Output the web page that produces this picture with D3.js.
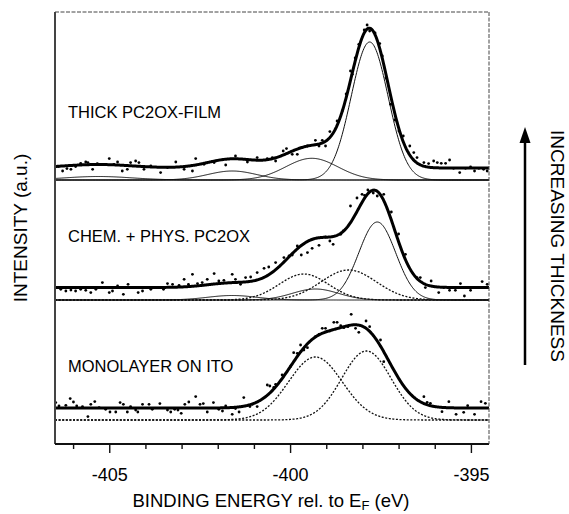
<!DOCTYPE html>
<meta charset="utf-8">
<script src="https://d3js.org/d3.v7.min.js"></script>
<style>
  body { margin: 0; background: #fff; }
  svg { font-family: "Liberation Sans", Arial, Helvetica, sans-serif; }
</style>
<body>
<div id="my_dataviz"></div>

<script>
  // ---- data (binding energy in eV, intensity in a.u.) ----
  var energyDomain = [-406.5, -394.5];
  var majorTicks = [-405, -400, -395];
  var minorTicks = [-406, -404, -403, -402, -401, -399, -398, -397, -396];

  var panelLabels = ["THICK PC2OX-FILM", "CHEM. + PHYS. PC2OX", "MONOLAYER ON ITO"];
  var panelOffsets = [264, 144, 24];      // vertical stacking of the three spectra
  var panelBackground = [12, 12.5, 12];   // constant background under each fit

  // fitted components: [centre (eV), height, fwhm (eV)]
  var thickPeaks = [[-405.3, 3.5, 2.2], [-401.6, 9, 1.6], [-399.4, 21.7, 1.7], [-397.8, 138, 1.2]];
  var chemPeaks = [[-401.6, 4.5, 1.6], [-399.3, 11, 1.5], [-399.62, 26, 1.6], [-398.38, 30, 1.8], [-397.59, 78, 1.2]];
  var monoPeaks = [[-399.3, 63, 1.75], [-397.89, 69, 1.6]];

  // measured points: [energy, intensity above panel baseline]
  var thickPoints = [[-406.41,13.4],[-406.29,9.0],[-406.17,11.4],[-406.06,10.7],[-405.93,13.4],[-405.79,16.7],[-405.65,18],[-405.59,17.4],[-405.46,10.7],[-405.33,16.4],[-405.19,15.7],[-405.0,21.4],[-404.87,15.7],[-404.77,18],[-404.64,9],[-404.5,10.7],[-404.41,17.4],[-404.27,19],[-404.18,17.4],[-404.04,10.7],[-403.85,14],[-403.58,7.4],[-403.39,12.4],[-403.16,18],[-402.93,10.7],[-402.7,9],[-402.61,21.4],[-402.38,15.7],[-402.1,17.4],[-401.78,15],[-401.51,24],[-401.18,18],[-400.91,22.4],[-400.63,21.4],[-400.49,22.4],[-400.4,19],[-400.19,29],[-400.1,31.4],[-399.94,25.7],[-399.8,25.7],[-399.66,32.4],[-399.52,34],[-399.3,39.7],[-399.2,34],[-399.11,39.7],[-399.02,34],[-398.9,48.4],[-398.7,59],[-398.56,69],[-398.45,86],[-398.33,109],[-398.28,105.7],[-398.2,122],[-398.1,135.7],[-397.95,150],[-397.87,155],[-397.8,149],[-397.65,147],[-397.52,136.4],[-397.45,124],[-397.35,102],[-397.22,75.7],[-397.1,60],[-396.99,49],[-396.87,44],[-396.69,34],[-396.58,27.4],[-396.49,22.4],[-396.3,17.4],[-396.17,16.4],[-396.03,19],[-395.93,17.4],[-395.82,16.7],[-395.7,16.7],[-395.59,20],[-395.48,11.7],[-395.31,7.4],[-395.15,11.7],[-395.01,13],[-394.9,9],[-394.78,11.7],[-394.65,10.7],[-394.55,9]];

  var chemPoints = [[-406.48,12.4],[-406.34,10.7],[-406.2,9],[-406.06,10],[-405.93,9],[-405.79,10.7],[-405.65,9.7],[-405.51,7.4],[-405.37,10.7],[-405.19,17.4],[-405.0,7.4],[-404.91,9],[-404.77,14],[-404.61,5.7],[-404.48,15.7],[-404.36,12.4],[-404.2,7.4],[-404.08,9],[-403.85,10.7],[-403.67,12.4],[-403.5,10.7],[-403.39,16.4],[-403.25,15.7],[-403.07,14.7],[-402.93,20.7],[-402.81,15.7],[-402.7,25.7],[-402.56,16.4],[-402.43,17.4],[-402.29,20.7],[-402.1,26.4],[-401.97,19],[-401.83,19.7],[-401.6,25.7],[-401.51,20.7],[-401.37,15.7],[-401.23,22.4],[-401.09,23],[-400.91,27.4],[-400.72,31.7],[-400.59,33],[-400.4,37.4],[-400.17,42.4],[-400.03,44],[-399.94,45],[-399.8,54],[-399.69,45],[-399.52,47.4],[-399.39,51.7],[-399.2,54.7],[-399.02,63],[-398.9,59],[-398.81,55.7],[-398.6,65.7],[-398.53,69],[-398.33,94],[-398.15,102],[-398.01,105.7],[-397.94,104.7],[-397.85,110],[-397.7,107],[-397.59,104],[-397.41,105.7],[-397.2,88],[-397.0,66],[-396.81,45.7],[-396.49,22.4],[-396.4,22.4],[-396.26,12.4],[-396.1,19],[-395.89,7.4],[-395.75,12.4],[-395.59,9.7],[-395.43,9.7],[-395.29,16.4],[-395.18,4],[-395.01,9.7],[-394.88,12.4],[-394.69,18.4],[-394.55,15.7]];

  var monoPoints = [[-406.48,17.4],[-406.39,14],[-406.2,14.7],[-406.08,21.4],[-405.99,18],[-405.9,14],[-405.74,13.4],[-405.59,3.4],[-405.51,15.7],[-405.4,18.4],[-405.28,12.4],[-405.1,10.7],[-404.98,8],[-404.82,8],[-404.7,17.4],[-404.61,15.7],[-404.5,8],[-404.41,13.4],[-404.27,10],[-404.21,8],[-404.08,15.7],[-403.9,15.7],[-403.81,10.7],[-403.6,16.4],[-403.39,10],[-403.3,8],[-403.19,10.7],[-403.1,10],[-403.01,6.7],[-402.91,15.7],[-402.8,18],[-402.61,23.4],[-402.49,15.7],[-402.4,16.4],[-402.29,8],[-402.12,17.4],[-401.97,10.7],[-401.87,9],[-401.78,14],[-401.6,5.7],[-401.51,11.4],[-401.41,8],[-401.28,22.4],[-401.11,13.4],[-401.04,15.7],[-400.91,13.4],[-400.63,35],[-400.56,34],[-400.45,32.7],[-400.4,35.7],[-400.22,45],[-399.99,53.3],[-399.9,67.3],[-399.8,66.7],[-399.71,75],[-399.62,70],[-399.52,72.3],[-399.3,83.3],[-399.2,85.7],[-399.11,91.7],[-399.02,91.7],[-398.9,89],[-398.79,97.7],[-398.7,97.7],[-398.6,94.3],[-398.51,92.3],[-398.4,93.3],[-398.31,105.7],[-398.19,91.7],[-398.1,87.7],[-397.9,99],[-397.8,93.3],[-397.5,80],[-397.41,58.3],[-396.3,23.3],[-396.21,17.7],[-396.12,16.7],[-395.8,8.3],[-395.61,18.3],[-395.41,5.7],[-395.2,7.7],[-395.09,14.3],[-394.9,5.7],[-394.72,18.3],[-394.6,16.7]];

  var panels = [
    {peaks: thickPeaks, points: thickPoints, dotted: [false, false, false, false]},
    {peaks: chemPeaks, points: chemPoints, dotted: [false, false, true, true, false]},
    {peaks: monoPeaks, points: monoPoints, dotted: [true, true]}
  ];

  // ---- layout ----
  var W = 569, H = 514;
  var margin = {top: 12, right: 80, bottom: 70, left: 55};
  var width = W - margin.left - margin.right,
      height = H - margin.top - margin.bottom;

  var svg = d3.select("#my_dataviz")
    .append("svg")
      .attr("width", W)
      .attr("height", H);

  var g = svg.append("g")
      .attr("transform", "translate(" + margin.left + "," + margin.top + ")");

  var x = d3.scaleLinear().domain(energyDomain).range([0, width]);
  var y = d3.scaleLinear().domain([0, 432]).range([height, 0]);

  function gauss(e, p) {
    var s = p[2] / 2.3548;
    return p[1] * Math.exp(-0.5 * Math.pow((e - p[0]) / s, 2));
  }

  var grid = d3.range(energyDomain[0], energyDomain[1] + 0.0001, 0.02);

  var line = d3.line()
    .x(function(d) { return x(d[0]); })
    .y(function(d) { return y(d[1]); });

  panels.forEach(function(pan, i) {
    var off = panelOffsets[i], bg = panelBackground[i];

    // components
    pan.peaks.forEach(function(p, j) {
      g.append("path")
        .datum(grid.map(function(e) { return [e, off + gauss(e, p)]; }))
        .attr("d", line)
        .attr("fill", "none")
        .attr("stroke", "#111")
        .attr("stroke-width", pan.dotted[j] ? 1.3 : 1)
        .attr("stroke-dasharray", pan.dotted[j] ? "2,1.6" : null);
    });

    // sum of fit
    g.append("path")
      .datum(grid.map(function(e) {
        return [e, off + bg + d3.sum(pan.peaks, function(p) { return gauss(e, p); })];
      }))
      .attr("d", line)
      .attr("fill", "none")
      .attr("stroke", "#000")
      .attr("stroke-width", 3)
      .attr("stroke-linejoin", "round");

    // measured points
    g.selectAll(".pt" + i)
      .data(pan.points)
      .enter()
      .append("circle")
        .attr("cx", function(d) { return x(d[0]); })
        .attr("cy", function(d) { return y(off + d[1]); })
        .attr("r", 1.4)
        .attr("fill", "#000");

    // panel label
    g.append("text")
      .attr("x", 13)
      .attr("y", y(off) - [62, 58, 48][i])
      .style("font-size", "16.5px")
      .text(panelLabels[i]);
  });

  // frame: solid left/bottom, faint dashed top/right
  g.append("line").attr("x1", 0).attr("x2", 0).attr("y1", 0).attr("y2", height)
    .attr("stroke", "#444").attr("stroke-width", 2);
  g.append("line").attr("x1", 0).attr("x2", width).attr("y1", height).attr("y2", height)
    .attr("stroke", "#111").attr("stroke-width", 1.8);
  g.append("line").attr("x1", 0).attr("x2", width).attr("y1", 0).attr("y2", 0)
    .attr("stroke", "#444").attr("stroke-width", 1).attr("stroke-dasharray", "4,1.5");
  g.append("line").attr("x1", width).attr("x2", width).attr("y1", 0).attr("y2", height)
    .attr("stroke", "#444").attr("stroke-width", 1).attr("stroke-dasharray", "4,1.5");

  // x axis ticks
  var axis = g.append("g").attr("transform", "translate(0," + height + ")");
  axis.call(d3.axisBottom(x).tickValues(minorTicks).tickSize(5).tickFormat(""))
    .select(".domain").remove();
  var axisMajor = g.append("g").attr("transform", "translate(0," + height + ")");
  axisMajor.call(d3.axisBottom(x).tickValues(majorTicks).tickSize(9).tickPadding(15)
      .tickFormat(function(d) { return d3.format("d")(d).replace("\u2212", "-"); }))
    .call(function(a) { a.select(".domain").remove(); })
    .selectAll("text")
      .style("font-size", "18px")
      .style("font-family", "'Liberation Sans', Arial, sans-serif")
      .attr("fill", "#000");
  g.selectAll(".tick line").attr("stroke", "#111").attr("stroke-width", 1.4);

  // axis titles
  var xl = svg.append("text")
    .attr("x", 271)
    .attr("y", 507)
    .attr("text-anchor", "middle")
    .style("font-size", "18.5px");
  xl.append("tspan").text("BINDING ENERGY rel. to E");
  xl.append("tspan").attr("dy", 3).style("font-size", "13px").text("F");
  xl.append("tspan").attr("dy", -3).text(" (eV)");

  svg.append("text")
    .attr("transform", "translate(27,228) rotate(-90)")
    .attr("text-anchor", "middle")
    .style("font-size", "19px")
    .text("INTENSITY (a.u.)");

  // thickness arrow + label
  var ax = 525;
  svg.append("line")
    .attr("x1", ax).attr("x2", ax).attr("y1", 365).attr("y2", 138)
    .attr("stroke", "#000").attr("stroke-width", 2.5);
  svg.append("path")
    .attr("d", "M" + ax + ",127 L" + (ax - 5.5) + ",143 L" + (ax + 5.5) + ",143 Z")
    .attr("fill", "#000");

  svg.append("text")
    .attr("transform", "translate(551,246) rotate(90)")
    .attr("text-anchor", "middle")
    .style("font-size", "19px")
    .text("INCREASING THICKNESS");
</script>
</body>
